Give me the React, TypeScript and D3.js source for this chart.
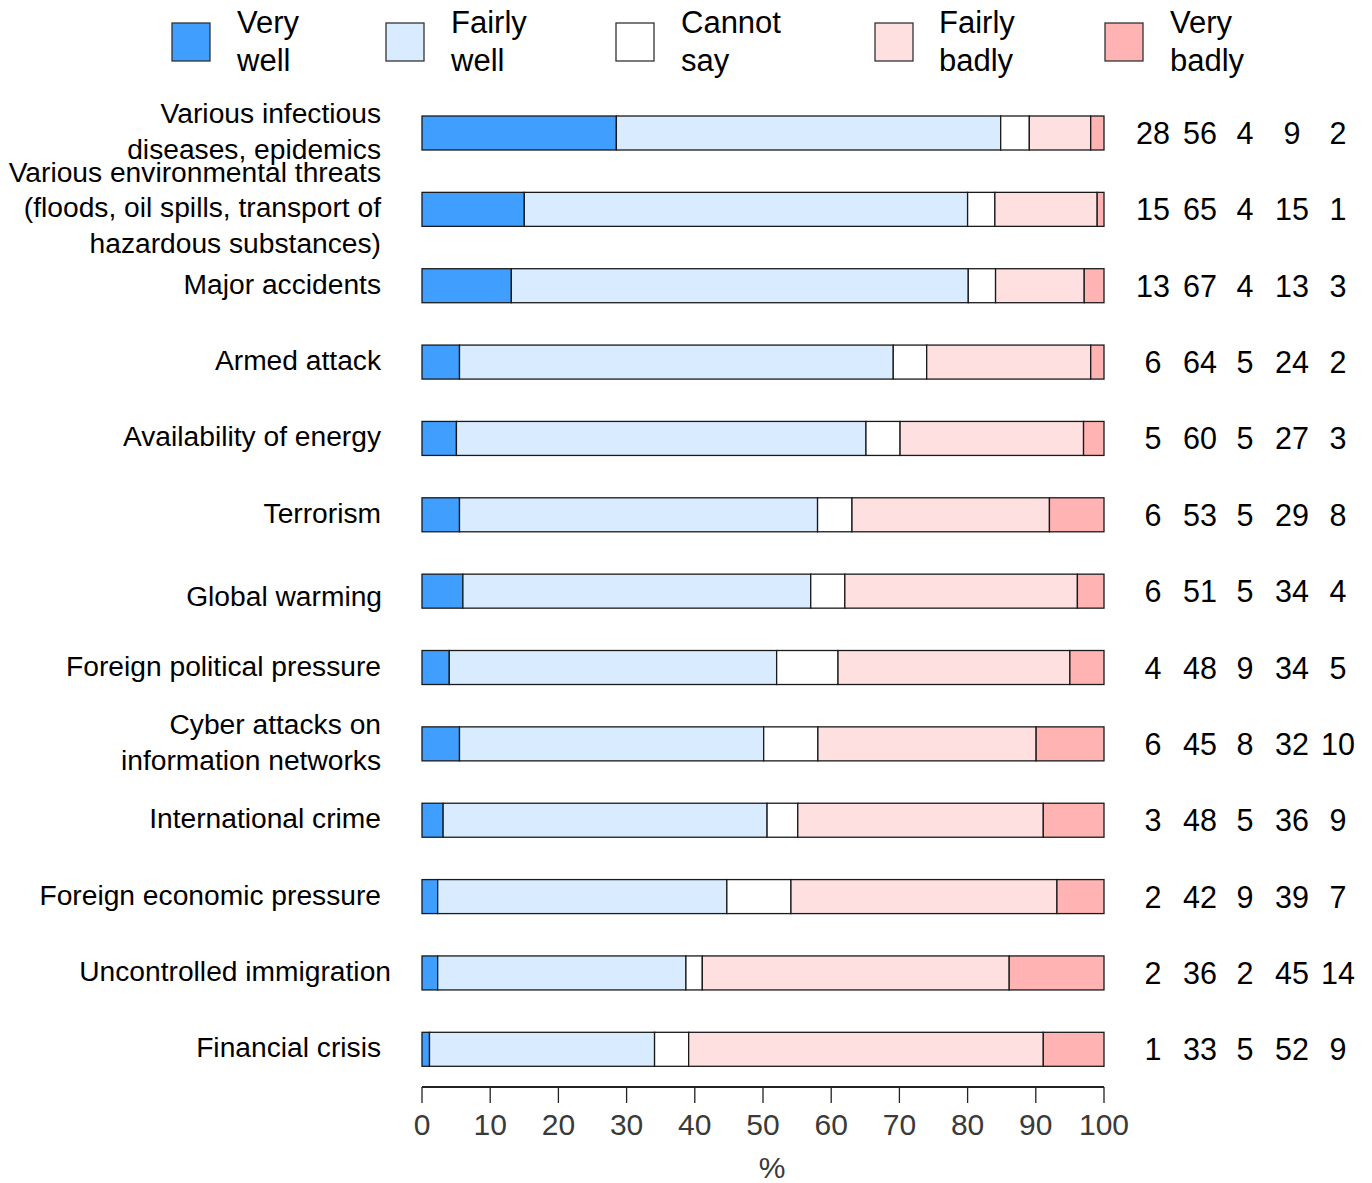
import React, { useEffect } from "react";
import * as d3 from "d3";

const categories = [
  "Various infectious\ndiseases, epidemics",
  "Various environmental threats\n(floods, oil spills, transport of\nhazardous substances)",
  "Major accidents",
  "Armed attack",
  "Availability of energy",
  "Terrorism",
  "Global warming",
  "Foreign political pressure",
  "Cyber attacks on\ninformation networks",
  "International crime",
  "Foreign economic pressure",
  "Uncontrolled immigration",
  "Financial crisis",
];

const seriesNames = ["Very\nwell", "Fairly\nwell", "Cannot\nsay", "Fairly\nbadly", "Very\nbadly"];
const seriesColors = ["#409EFF", "#D9ECFF", "#FFFFFF", "#FFE0E1", "#FFB3B3"];

// bar segment values (%), as drawn
const veryWell = [28.5, 15.0, 13.1, 5.5, 5.05, 5.5, 6.0, 4.0, 5.5, 3.1, 2.3, 2.3, 1.1];
const fairlyWell = [56.35, 65.0, 67.0, 63.6, 60.05, 52.5, 51.0, 48.0, 44.6, 47.5, 42.4, 36.4, 33.0];
const cannotSay = [4.2, 4.0, 4.0, 4.9, 5.0, 5.05, 5.0, 9.0, 7.95, 4.5, 9.4, 2.4, 5.0];
const fairlyBadly = [9.0, 15.0, 13.0, 24.05, 26.9, 28.95, 34.1, 34.0, 32.0, 36.0, 39.0, 45.0, 52.0];
const veryBadly = [1.95, 1.0, 2.9, 1.95, 3.0, 8.0, 3.9, 5.0, 9.95, 8.9, 6.9, 13.9, 8.9];

// printed numbers at the right
const lblVeryWell = [28, 15, 13, 6, 5, 6, 6, 4, 6, 3, 2, 2, 1];
const lblFairlyWell = [56, 65, 67, 64, 60, 53, 51, 48, 45, 48, 42, 36, 33];
const lblCannotSay = [4, 4, 4, 5, 5, 5, 5, 9, 8, 5, 9, 2, 5];
const lblFairlyBadly = [9, 15, 13, 24, 27, 29, 34, 34, 32, 36, 39, 45, 52];
const lblVeryBadly = [2, 1, 3, 2, 3, 8, 4, 5, 10, 9, 7, 14, 9];

const xTicks = [0, 10, 20, 30, 40, 50, 60, 70, 80, 90, 100];

const FONT = "'Liberation Sans', Arial, Helvetica, sans-serif";

export default function App() {
  useEffect(() => {
    document.body.style.margin = "0";
  }, []);

  const W = 1372, H = 1183;
  const x = d3.scaleLinear().domain([0, 100]).range([422, 1104]);
  const y = d3
    .scaleBand<string>()
    .domain(categories)
    .range([116, 1066.3])
    .paddingInner(1 - 34 / 76.36)
    .paddingOuter(0);
  const bw = y.bandwidth();

  const series = [veryWell, fairlyWell, cannotSay, fairlyBadly, veryBadly];
  const labels = [lblVeryWell, lblFairlyWell, lblCannotSay, lblFairlyBadly, lblVeryBadly];
  const table = categories.map((c, i) => {
    const row: any = { cat: c };
    series.forEach((s, k) => (row["s" + k] = s[i]));
    return row;
  });
  const stack = d3.stack<any>().keys(["s0", "s1", "s2", "s3", "s4"])(table);

  const labelCols = [1153, 1200, 1245, 1292, 1338];
  const legendBoxX = [172, 386, 616, 875, 1105];
  const legendTextX = [237, 451, 681, 939, 1170];
  const lineH = 35.5;
  const tweak: Record<number, { dx: number; dy: number }> = {
    6: { dx: 1, dy: 7 },
    11: { dx: 10, dy: 0 },
  };

  return (
    <svg width={W} height={H} style={{ display: "block", position: "absolute", left: 0, top: 0 }} fontFamily={FONT}>
      <rect width={W} height={H} fill="#fff" />
      {/* legend */}
      {seriesNames.map((n, k) => (
        <g key={k}>
          <rect x={legendBoxX[k]} y={23} width={38} height={38} fill={seriesColors[k]} stroke="#333" strokeWidth={1.3} />
          {n.split("\n").map((t, j) => (
            <text key={j} x={legendTextX[k]} y={33 + j * 37.5} fontSize={31} fill="#000">
              {t}
            </text>
          ))}
        </g>
      ))}
      {/* bars */}
      {stack.map((layer, k) => (
        <g key={k}>
          {layer.map((d, i) => (
            <rect
              key={i}
              x={x(d[0])}
              y={y(categories[i])}
              width={x(d[1]) - x(d[0])}
              height={bw}
              fill={seriesColors[k]}
              stroke="#1a1a1a"
              strokeWidth={1.3}
            />
          ))}
        </g>
      ))}
      {/* category labels */}
      {categories.map((c, i) => {
        const lines = c.split("\n");
        const cy = (y(c) as number) + bw / 2 + (tweak[i]?.dy || 0);
        const rx = 381 + (tweak[i]?.dx || 0);
        return (
          <g key={i}>
            {lines.map((t, j) => (
              <text
                key={j}
                x={rx}
                y={cy + (j - (lines.length - 1) / 2) * lineH + 8}
                fontSize={28.2}
                textAnchor="end"
                fill="#000"
              >
                {t}
              </text>
            ))}
          </g>
        );
      })}
      {/* right numbers */}
      {categories.map((c, i) => (
        <g key={i}>
          {labels.map((arr, k) => (
            <text
              key={k}
              x={labelCols[k]}
              y={(y(c) as number) + bw / 2 + 11}
              fontSize={30.5}
              textAnchor="middle"
              fill="#000"
            >
              {arr[i]}
            </text>
          ))}
        </g>
      ))}
      {/* x axis */}
      <line x1={x(0)} x2={x(100)} y1={1087} y2={1087} stroke="#222" strokeWidth={2} />
      {xTicks.map((t) => (
        <g key={t}>
          <line x1={x(t)} x2={x(t)} y1={1087} y2={1103} stroke="#222" strokeWidth={1.3} />
          <text x={x(t)} y={1135} fontSize={30} textAnchor="middle" fill="#3a3a3a">
            {t}
          </text>
        </g>
      ))}
      <text x={772} y={1178} fontSize={30} textAnchor="middle" fill="#3a3a3a">
        %
      </text>
    </svg>
  );
}
